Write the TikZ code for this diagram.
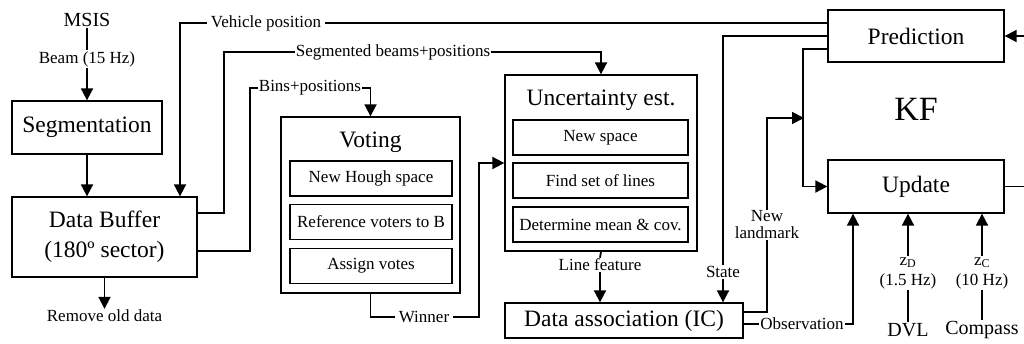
\documentclass[tikz,border=0pt]{standalone}
\usepackage{fontspec}
\setmainfont{Liberation Serif}
\usetikzlibrary{arrows.meta,calc}
\begin{document}
\begin{tikzpicture}[x=1pt,y=-1pt,
  box/.style={draw,line width=1.3pt,inner sep=0pt,font=\fontsize{23.5}{30}\selectfont},
  sub/.style={draw,line width=1.3pt,inner sep=0pt,minimum height=35pt,font=\fontsize{17}{20}\selectfont},
  title/.style={inner sep=0pt,font=\fontsize{23.5}{28}\selectfont},
  lbl/.style={inner sep=1pt,align=center,font=\fontsize{17}{19}\selectfont},
  dev/.style={inner sep=1pt,font=\fontsize{20}{22}\selectfont},
  wire/.style={line width=1.8pt},
  arr/.style={wire,-{Triangle[length=12pt,width=12pt]}}]
\useasboundingbox (0,0) rectangle (1024,343);

% processing blocks
\node[box,minimum width=150pt,minimum height=53pt] (seg) at (87,127.5) {Segmentation};
\node[box,minimum width=185pt,minimum height=80pt,align=center] (buf) at (104.5,237) {Data Buffer\\(180º sector)};

\node[box,minimum width=179pt,minimum height=176pt] (vot) at (370.5,205) {};
\node[title,anchor=base] (votT) at (370.5,147) {Voting};
\node[sub,minimum width=162pt] (v1) at (371,178.5) {New Hough space};
\node[sub,minimum width=162pt] (v2) at (371,222) {Reference voters to B};
\node[sub,minimum width=162pt] (v3) at (371,266) {Assign votes};

\node[box,minimum width=192pt,minimum height=176pt] (unc) at (601,163) {};
\node[title,anchor=base] (uncT) at (601,105) {Uncertainty est.};
\node[sub,minimum width=175pt] (u1) at (600.5,137.5) {New space};
\node[sub,minimum width=175pt] (u2) at (600.5,180.5) {Find set of lines};
\node[sub,minimum width=175pt] (u3) at (600.5,224.5) {Determine mean \& cov.};

\node[box,minimum width=238pt,minimum height=35pt] (da) at (624,320.5) {Data association (IC)};

\node[box,minimum width=176pt,minimum height=52pt] (pred) at (916,36) {Prediction};
\node[box,minimum width=176pt,minimum height=53pt] (upd) at (916,186.5) {Update};
\node[inner sep=0pt,anchor=base,font=\fontsize{34}{40}\selectfont] (kf) at (916,120) {KF};

% sources, sinks and connector labels
\node[dev] (msis) at (87,20) {MSIS};
\node[lbl] (beam) at (87,59) {Beam (15 Hz)};
\node[lbl] (remove) at (104.5,316) {Remove old data};
\node[lbl,inner sep=4pt] (vehpos) at (266,23) {Vehicle position};
\node[lbl] (segb) at (393,52) {Segmented beams+positions};
\node[lbl] (bins) at (310,88) {Bins+positions};
\node[lbl,inner sep=4pt] (winner) at (424,317) {Winner};
\node[lbl] (linef) at (600,265) {Line feature};
\node[lbl] (state) at (723,272) {State};
\node[lbl,font=\fontsize{17}{17}\selectfont] (newlm) at (767,225) {New\\landmark};
\node[lbl] (obs) at (802,324) {Observation};
\node[lbl,font=\fontsize{17}{20}\selectfont] (zd) at (908,273) {z\textsubscript{D}\\(1.5 Hz)};
\node[dev] (dvl) at (908,330) {DVL};
\node[lbl,font=\fontsize{17}{20}\selectfont] (zc) at (982,273) {z\textsubscript{C}\\(10 Hz)};
\node[dev] (comp) at (982,330) {Compass};

\coordinate (lmj) at (804,118);
\coordinate (rin) at (1024,36);
\coordinate (rout) at (1024,186.5);

% sonar chain
\draw[wire] (msis.south) -- (beam.north);
\draw[arr] (beam.south) -- (seg.north);
\draw[arr] (seg.south) -- (seg.south |- buf.north);
\draw[arr] (buf.south) -- (remove.north);

% vehicle position into the buffer
\draw[wire] ([yshift=13pt]pred.west) -- (vehpos.east);
\draw[arr] (vehpos.west) -| ([xshift=75.5pt]buf.north);

% buffer outputs
\draw[wire] ([yshift=24pt]buf.east) -- ++(26,0) |- (segb.west);
\draw[arr] (segb.east) -| (unc.north);
\draw[wire] ([yshift=-14pt]buf.east) -- ++(52,0) |- (bins.west);
\draw[arr] (bins.east) -| (vot.north);

% voting winner to uncertainty estimation
\draw[wire] (vot.south) |- (winner.west);
\draw[arr] (winner.east) -| ([xshift=-25pt]unc.west) -- (unc.west);

% line feature to data association
\draw[wire] (unc.south) -- (linef.north);
\draw[arr] (linef.south) -- (linef.south |- da.north);

% filter state to data association
\draw[wire] (pred.west) -| (state.north);
\draw[arr] (state.south) -- (state.south |- da.north);

% prediction to update
\draw[arr] ([yshift=-13pt]pred.west) -- ++(-24,0) |- (upd.west);

% new landmark and observation
\draw[wire] ([yshift=8.5pt]da.east) -| (newlm.south);
\draw[arr] (newlm.north) |- (lmj);
\draw[wire] ([yshift=-3.5pt]da.east) -- (obs.west);
\draw[arr] (obs.east) -| ([xshift=-63pt]upd.south);

% DVL and compass
\draw[wire] (dvl.north) -- (zd.south);
\draw[arr] (zd.north) -- (zd.north |- upd.south);
\draw[wire] (comp.north) -- (zc.south);
\draw[arr] (zc.north) -- (zc.north |- upd.south);

% filter loop
\draw[arr] (rin) -- (pred.east);
\draw[wire] (upd.east) -- (rout);
\end{tikzpicture}
\end{document}
